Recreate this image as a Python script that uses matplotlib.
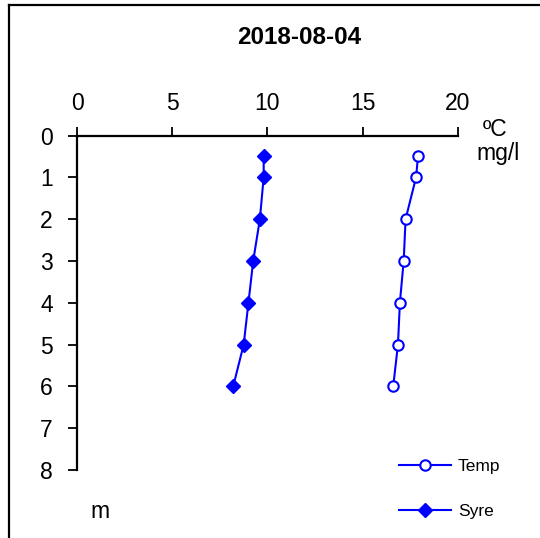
import matplotlib
matplotlib.use("Agg")
import matplotlib.pyplot as plt
from matplotlib.lines import Line2D

plt.rcParams['font.family'] = ['Liberation Sans', 'DejaVu Sans']

# depth profile 2018-08-04
depth = [0.5, 1, 2, 3, 4, 5, 6]
temp = [17.9, 17.8, 17.25, 17.15, 16.95, 16.85, 16.6]
syre = [9.8, 9.8, 9.6, 9.25, 9.0, 8.75, 8.2]
xticks = [0, 5, 10, 15, 20]
yticks = [0, 1, 2, 3, 4, 5, 6, 7, 8]

BLUE = '#0000FF'

fig = plt.figure(figsize=(5.4, 5.38), dpi=100)
ax = fig.add_axes([0.1426, 0.1264, 0.7055, 0.6217])

ax.plot(temp, depth, color=BLUE, lw=1.5, marker='o', ms=7.5,
        mfc='white', mec=BLUE, mew=1.5, label='Temp')
ax.plot(syre, depth, color=BLUE, lw=1.5, marker='D', ms=7,
        mfc=BLUE, mec=BLUE, label='Syre')

ax.set_xlim(0, 20)
ax.set_ylim(8, 0)
ax.set_xticks(xticks)
ax.set_yticks(yticks)
ax.xaxis.tick_top()
ax.spines['right'].set_visible(False)
ax.spines['bottom'].set_visible(False)
for s in ('top', 'left'):
    ax.spines[s].set_linewidth(1.6)
ax.tick_params(axis='both', direction='out', length=6.5, width=1.3,
               labelsize=16.5)
ax.tick_params(axis='x', pad=8)
ax.tick_params(axis='y', pad=11)

# units
fig.text(495 / 540, 1 - 129 / 538, 'ºC', fontsize=16.5, ha='center', va='center')
fig.text(498 / 540, 1 - 154 / 538, 'mg/l', fontsize=16.5, ha='center', va='center')
fig.text(100 / 540, 1 - 512 / 538, 'm', fontsize=16.5, ha='center', va='center')

fig.text(299 / 540, 1 - 38 / 538, '2018-08-04', fontsize=17.5,
         fontweight='bold', ha='center', va='center')

# legend
handles = [
    Line2D([], [], color=BLUE, lw=1.5, marker='o', ms=7.5, mfc='white',
           mec=BLUE, mew=1.5),
    Line2D([], [], color=BLUE, lw=1.5, marker='D', ms=7, mfc=BLUE, mec=BLUE),
]
fig.legend(handles, ['Temp', 'Syre'], loc='center left',
           bbox_to_anchor=(399 / 540, 1 - 489 / 538), frameon=False,
           fontsize=12.5, handlelength=3.0, handletextpad=0.4,
           labelspacing=1.7, borderpad=0, borderaxespad=0)

# outer frame (left and top only visible)
fig.add_artist(Line2D([9 / 540, 9 / 540], [0, 1 - 5 / 538], color='black',
                      lw=1.6, transform=fig.transFigure))
fig.add_artist(Line2D([9 / 540, 1], [1 - 5 / 538, 1 - 5 / 538], color='black',
                      lw=1.6, transform=fig.transFigure))

fig.savefig('out.png', dpi=100)
